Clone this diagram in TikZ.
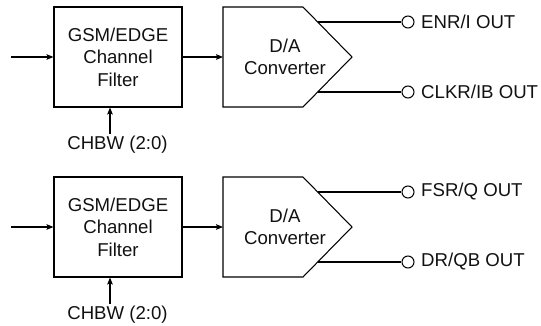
\documentclass[tikz,border=0pt]{standalone}
\usepackage{fontspec}
\setmainfont{Liberation Sans}
\usepackage{xcolor}
\usepackage{tikz}
\usetikzlibrary{calc,arrows.meta,positioning}
\definecolor{linec}{HTML}{000000}
\definecolor{txtc}{HTML}{111111}
\tikzset{
  ar/.style={-{Stealth[length=4pt,width=3.2pt,inset=0.8pt]},line width=0.6pt,linec},
  wire/.style={line width=0.6pt,linec},
  box/.style={draw=linec,line width=0.6pt,minimum width=2.56cm,minimum height=2cm,align=center,inner sep=0pt,text=txtc,font=\fontsize{10.6}{12.8}\selectfont},
  lbl/.style={inner sep=0pt,text=txtc,font=\fontsize{10.6}{12.8}\selectfont},
  pin/.style={circle,draw=linec,line width=0.6pt,fill=white,minimum size=0.24cm,inner sep=0pt}
}

\begin{document}
\begin{tikzpicture}[x=0.02cm,y=-0.02cm]
\useasboundingbox (0,0) rectangle (541,325);
% upper channel
\node[box] (flt1) at (118,57) {GSM/EDGE\\Channel\\Filter};
\draw[wire] (223,7) -- (303,7) -- (352,57) -- (303,107) -- (223,107) -- cycle;
\node[lbl,align=center] (dac1) at (285,57) {D/A\\Converter};
\coordinate (in1) at (11,57);
\coordinate (d1in) at (223,57);
\coordinate (d1a) at (318,22);
\coordinate (d1b) at (318,92);
\node[lbl] (bw1) at (117.5,145) {CHBW (2:0)};
\coordinate (c1) at (110,134);
\node[pin] (o1) at (408,22) {};
\node[pin] (o2) at (408,92) {};
\node[lbl,right=3.6pt of o1] (o1t) {ENR/I OUT};
\node[lbl,right=3.6pt of o2] (o2t) {CLKR/IB OUT};
\draw[ar] (in1) -- (flt1.west);
\draw[ar] (flt1.east) -- (d1in);
\draw[ar] (c1) -- (c1 |- flt1.south);
\draw[wire] (d1a) -- (o1.west);
\draw[wire] (d1b) -- (o2.west);
% lower channel
\node[box] (flt2) at (118,227) {GSM/EDGE\\Channel\\Filter};
\draw[wire] (223,177) -- (303,177) -- (352,227) -- (303,277) -- (223,277) -- cycle;
\node[lbl,align=center] (dac2) at (285,227) {D/A\\Converter};
\coordinate (in2) at (11,227);
\coordinate (d2in) at (223,227);
\coordinate (d2a) at (318,192);
\coordinate (d2b) at (318,262);
\node[lbl] (bw2) at (117.5,315) {CHBW (2:0)};
\coordinate (c2) at (110,304);
\node[pin] (o3) at (408,192) {};
\node[pin] (o4) at (408,262) {};
\node[lbl,right=3.6pt of o3] (o3t) {FSR/Q OUT};
\node[lbl,right=3.6pt of o4] (o4t) {DR/QB OUT};
\draw[ar] (in2) -- (flt2.west);
\draw[ar] (flt2.east) -- (d2in);
\draw[ar] (c2) -- (c2 |- flt2.south);
\draw[wire] (d2a) -- (o3.west);
\draw[wire] (d2b) -- (o4.west);
\end{tikzpicture}
\end{document}
